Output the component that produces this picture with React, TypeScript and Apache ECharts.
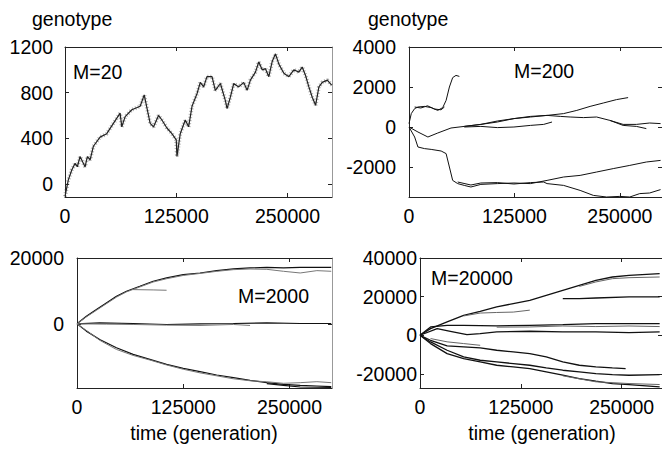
import React, { useEffect, useRef } from "react";
import * as echarts from "echarts";

type P = [number, number][];

// ---- x axis ticks (all panels) ----
const xTicks = [0, 125000, 250000];
const xMax = 300000;

// ---- panel 1: M=20 ----
const yTicks1 = [0, 400, 800, 1200];
const m20Trace: P = [
  [0, -110], [3750, 35], [7500, 120], [11300, 180], [13900, 150], [16900, 240], [22500, 150], [25200, 240],
  [28200, 210], [31900, 330], [39400, 410], [46900, 440], [54400, 530], [61900, 620], [63800, 500], [67600, 590],
  [75100, 650], [84500, 680], [89000, 780], [95700, 530], [99500, 500], [105100, 600], [108900, 560], [114500, 490],
  [120100, 440], [125000, 385], [125800, 240], [129500, 440], [135100, 560], [138900, 500], [142700, 680], [148300, 790],
  [152000, 890], [155800, 850], [159500, 940], [165200, 940], [168900, 820], [174600, 880], [180200, 730], [182100, 660],
  [185800, 760], [189600, 880], [195200, 850], [200800, 890], [204600, 820], [208300, 910], [214000, 980], [217700, 1070],
  [221500, 1000], [225200, 1010], [229000, 940], [232700, 1070], [236500, 1140], [240300, 1050], [245900, 970], [251500, 940],
  [257100, 1000], [262800, 980], [266500, 1025], [270300, 950], [274000, 850], [277800, 760], [281600, 690], [285300, 850],
  [289100, 890], [294700, 910], [299600, 865],
];

// ---- panel 2: M=200 ----
const yTicks2 = [-2000, 0, 2000, 4000];
const m200A: P = [[0, 170], [2700, 670], [6700, 920], [10600, 1000], [18400, 1030], [26300, 970], [34100, 830], [40000, 970], [44000, 1330], [47900, 2000], [51800, 2470], [55700, 2580], [59700, 2530]];
const m200A2: P = [[6700, 1000], [14000, 950], [22000, 1060], [30000, 900], [38000, 860], [42000, 1000]];
const m200B: P = [[0, 0], [10600, -250], [22400, -500], [34100, -300], [49800, -50], [65500, 30], [85200, 130], [104800, 250], [124400, 420], [144000, 530], [163700, 580], [183300, 670], [199000, 830], [214700, 1030], [230400, 1200], [246100, 1370], [259800, 1470]];
const m200C: P = [[65500, 0], [85200, 30], [104800, -30], [124400, 0], [144000, 80], [159700, 130], [169600, 250]];
const m200D: P = [[65500, 30], [85200, 130], [104800, 300], [124400, 420], [144000, 500], [163700, 580], [179400, 530], [191100, 500], [206800, 470], [222500, 500], [238200, 330], [253900, 130], [269600, 130], [285300, 200], [298300, 170]];
const m200E: P = [[238200, 330], [253900, 80], [269600, 30], [281400, -80]];
const m200F: P = [[0, 0], [6700, -500], [10600, -1000], [18400, -1080], [26300, -1120], [38100, -1200], [44000, -1330], [47900, -2000], [51800, -2670], [57700, -2830], [65500, -2920], [73400, -3000], [85200, -2870], [104800, -2830], [124400, -2800], [144000, -2830], [163700, -2670], [183300, -2500], [202900, -2420], [222500, -2250], [242200, -2080], [261800, -1920], [281400, -1750], [298300, -1670]];
const m200G: P = [[159700, -2750], [163700, -2830], [183300, -2920], [202900, -3170], [218600, -3420], [234300, -3500], [250000, -3470], [261800, -3500], [273600, -3330], [285300, -3300], [298300, -3130]];
const m200H: P = [[57700, -2750], [73400, -2900], [85200, -2800], [104800, -2780], [124400, -2850], [144000, -2780], [159700, -2750]];

// ---- panel 3: M=2000 ----
const yTicks3 = [0, 20000];
const m2000U1: P = [[0, 0], [11000, 2320], [22800, 4340], [34500, 6360], [46400, 8380], [58200, 9900], [73900, 11410], [89600, 12930], [105400, 13940], [125000, 14950], [144700, 15450], [164300, 16160], [184000, 16670], [203600, 16970], [223300, 17170], [242900, 16970], [262600, 17170], [299100, 17170]];
const m2000U2: P = [[0, 0], [11000, 2100], [22800, 4100], [34500, 6100], [46400, 8100], [58200, 9700], [73900, 11200], [89600, 12700], [105400, 13700], [125000, 14700], [144700, 15300], [164300, 15950], [184000, 16460], [203600, 16660], [223300, 16560], [242900, 15960], [262600, 15450], [282200, 16160], [299100, 15960]];
const m2000U3: P = [[66000, 10400], [89600, 10300], [105400, 10200]];
const m2000M1: P = [[0, 0], [26700, 300], [66000, 100], [105400, -200], [144700, 0], [184000, 100], [223300, 300], [262600, 100], [299100, 100]];
const m2000M2: P = [[0, 0], [34500, -100], [66000, -200], [105400, -400], [144700, -500], [184000, -200], [203600, -500]];
const m2000L1: P = [[0, 0], [11000, -2220], [26700, -4750], [46400, -7270], [66000, -9290], [85700, -10810], [105400, -12320], [125000, -13530], [144700, -14540], [164300, -15550], [184000, -16360], [203600, -17170], [223300, -17880], [242900, -18380], [262600, -18690], [282200, -18890], [299100, -19090]];
const m2000L2: P = [[0, 0], [11000, -2000], [26700, -5000], [46400, -7780], [66000, -9600], [85700, -11000], [105400, -12500], [125000, -13800], [144700, -14900], [164300, -15800], [184000, -16700], [203600, -17300], [223300, -17600], [242900, -18080], [262600, -17880], [282200, -17580], [299100, -17880]];
const m2000L3: P = [[223300, -18200], [242900, -18700], [262600, -19200], [299100, -19300]];

// ---- panel 4: M=20000 ----
const yTicks4 = [-20000, 0, 20000, 40000];
const m20000T1: P = [[0, 0], [13100, 3450], [33600, 6900], [54100, 10340], [74600, 12410], [95100, 14650], [115600, 16380], [136100, 18100], [156500, 20690], [177000, 23270], [197500, 25860], [218000, 28450], [238500, 30170], [259100, 31030], [297100, 31890]];
const m20000T2: P = [[197500, 25300], [218000, 27600], [238500, 29300], [259100, 29800], [297100, 30170]];
const m20000T3: P = [[54100, 10000], [74600, 11500], [95100, 11800], [115600, 12000], [136100, 13000]];
const m20000T4: P = [[177000, 19000], [197500, 19000], [218000, 19300], [259100, 19830], [297100, 19830]];
const m20000T5: P = [[0, 0], [13100, 4310], [33600, 5170], [54100, 5170], [95100, 4830], [136100, 5170], [177000, 5520], [218000, 6030], [259100, 6030], [297100, 6030]];
const m20000T5b: P = [[95100, 4200], [136100, 4300], [177000, 4800], [218000, 4500], [259100, 4800], [297100, 4500]];
const m20000T6: P = [[0, 0], [21300, 3450], [37700, 2070], [58200, 350], [74600, 860], [95100, 1720], [136100, 2070], [177000, 1720], [218000, 1720], [259100, 1380], [297100, 1720]];
const m20000T8: P = [[0, 0], [13100, -2590], [33600, -5520], [54100, -6030], [74600, -6550], [95100, -7760], [115600, -8620], [136100, -9480], [156500, -11210], [177000, -13790], [197500, -15520], [218000, -16380], [238500, -16900], [254900, -17240]];
const m20000T9: P = [[0, 0], [13100, -3450], [33600, -7760], [54100, -11210], [74600, -12930], [95100, -13790], [115600, -14650], [136100, -15520], [156500, -16900], [177000, -18100], [197500, -18960], [218000, -19830], [238500, -20340], [259100, -20690], [297100, -20340]];
const m20000T10: P = [[0, 0], [13100, -4310], [33600, -9480], [54100, -12070], [74600, -13790], [95100, -15520], [115600, -16380], [136100, -17240], [156500, -18960], [177000, -20690], [197500, -22410], [218000, -23790], [238500, -25000], [259100, -25510], [297100, -26720]];
const m20000T11: P = [[177000, -21000], [218000, -24100], [259100, -25000], [297100, -25510]];
const m20000T12: P = [[13100, -1700], [33600, -3400], [54100, -4300], [74600, -5200]];

const FONT = "Liberation Sans, Arial, Helvetica, sans-serif";
const FS = 19.5;

export default function App() {
  const ref = useRef<HTMLDivElement>(null);
  useEffect(() => {
    if (!ref.current) return;
    const chart = echarts.init(ref.current, undefined, { renderer: "svg" });

    const grids = [
      { left: 65, top: 47, width: 267, height: 150 },
      { left: 409, top: 47, width: 254, height: 150 },
      { left: 77, top: 258, width: 255, height: 130 },
      { left: 420, top: 258, width: 245, height: 130 },
    ];
    const yCfg = [
      { min: -115, max: 1200, ticks: yTicks1, margin: 12, rightColor: "#999" },
      { min: -3500, max: 4000, ticks: yTicks2, margin: 13, rightColor: "#222" },
      { min: -19500, max: 20000, ticks: yTicks3, margin: 13, rightColor: "#999" },
      { min: -27300, max: 40000, ticks: yTicks4, margin: 3, rightColor: "#222" },
    ];
    const plain = (v: number) => String(v);

    const xAxis: any[] = [];
    const yAxis: any[] = [];
    grids.forEach((_, i) => {
      const base = {
        type: "value",
        gridIndex: i,
        min: 0,
        max: xMax,
        splitLine: { show: false },
        axisLine: { show: true, onZero: false, lineStyle: { color: "#222", width: 1 } },
        axisTick: { show: true, inside: true, length: 4, customValues: xTicks, lineStyle: { color: "#222" } },
      };
      xAxis.push({
        ...base,
        position: "bottom",
        axisLabel: { show: true, customValues: xTicks, formatter: plain, margin: 9, color: "#000", fontSize: FS, fontFamily: FONT },
      });
      xAxis.push({ ...base, position: "top", axisLabel: { show: false } });
      const c = yCfg[i];
      const ybase = {
        type: "value",
        gridIndex: i,
        min: c.min,
        max: c.max,
        splitLine: { show: false },
        axisTick: { show: true, inside: true, length: 4, customValues: c.ticks, lineStyle: { color: "#222" } },
      };
      yAxis.push({
        ...ybase,
        position: "left",
        axisLine: { show: true, onZero: false, lineStyle: { color: "#222", width: 1 } },
        axisLabel: { show: true, customValues: c.ticks, formatter: plain, margin: c.margin, color: "#000", fontSize: FS, fontFamily: FONT },
      });
      yAxis.push({
        ...ybase,
        position: "right",
        axisLine: { show: true, onZero: false, lineStyle: { color: c.rightColor, width: 1 } },
        axisLabel: { show: false },
      });
    });

    const mk = (data: P, i: number, color = "#111", width = 1, type: any = "solid", opacity = 1) => ({
      type: "line",
      xAxisIndex: 2 * i,
      yAxisIndex: 2 * i,
      data,
      showSymbol: false,
      symbol: "none",
      silent: true,
      lineStyle: { color, width, type, opacity },
      z: 3,
    });

    const series = [
      mk(m20Trace, 0, "#555", 4, [1, 2], 0.45),
      mk(m20Trace, 0, "#222", 1.2),
      ...[m200A, m200A2, m200B, m200C, m200D, m200E, m200F, m200G, m200H].map((d) => mk(d, 1, "#111", 1)),
      ...[m2000U1, m2000M1, m2000L1, m2000L3].map((d) => mk(d, 2, "#111", 1.2)),
      ...[m2000U2, m2000U3, m2000M2, m2000L2].map((d) => mk(d, 2, "#777", 1)),
      ...[m20000T1, m20000T4, m20000T5, m20000T6, m20000T8, m20000T9, m20000T10].map((d) => mk(d, 3, "#111", 1.3)),
      ...[m20000T2, m20000T3, m20000T5b, m20000T11, m20000T12].map((d) => mk(d, 3, "#666", 1)),
    ];

    const txt = (x: number, y: number, text: string, align = "left") => ({
      type: "text",
      x,
      y,
      silent: true,
      z: 10,
      style: { text, fill: "#000", font: `${FS}px ${FONT}`, textAlign: align, textVerticalAlign: "middle" },
    });

    chart.setOption({
      animation: false,
      backgroundColor: "#fff",
      grid: grids.map((g) => ({ ...g, containLabel: false, show: false })),
      xAxis,
      yAxis,
      series,
      graphic: [
        txt(32, 19, "genotype"),
        txt(368, 19, "genotype"),
        txt(73, 72, "M=20"),
        txt(514, 71, "M=200"),
        txt(238, 296, "M=2000"),
        txt(431, 278, "M=20000"),
        txt(204, 433, "time (generation)", "center"),
        txt(542, 433, "time (generation)", "center"),
      ],
    });
    return () => chart.dispose();
  }, []);
  return (
    <div
      ref={ref}
      style={{ position: "fixed", left: 0, top: 0, width: 662, height: 450, background: "#fff" }}
    />
  );
}
